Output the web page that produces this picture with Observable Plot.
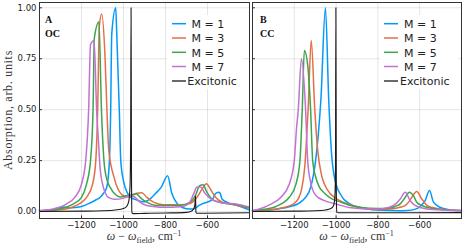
<!DOCTYPE html>
<html>
<head>
<meta charset="utf-8">
<script src="https://cdn.jsdelivr.net/npm/d3@7"></script>
<script src="https://cdn.jsdelivr.net/npm/@observablehq/plot@0.6"></script>
<style>
  html, body { margin: 0; padding: 0; background: #fff; }
  #root { position: relative; width: 463px; height: 247px; overflow: hidden; background: #fff; }
  #root svg { position: absolute; top: 0; }
</style>
</head>
<body>
<div id="root"></div>
<script>
// ---------- axes / ticks ----------
const xDomain = [-1400, -400];
const yDomain = [-0.034, 1.026];
const xTicks = [-1200, -1000, -800, -600];
const yTicks = [0, 0.25, 0.5, 0.75, 1];
const seriesNames = ["M = 1", "M = 3", "M = 5", "M = 7", "Excitonic"];
const seriesColors = ["#009AFA", "#E36F47", "#3EA44E", "#C371D2", "#1a1a1a"];
const panelTags = [["A", "OC"], ["B", "CC"]];

// ---------- panel A (OC) ----------
const ocM1 = [[-1400,0.003],[-1360,0.006],[-1320,0.012],[-1300,0.02],[-1285,0.022],[-1260,0.018],[-1230,0.02],[-1200,0.025],[-1160,0.042],[-1130,0.058],[-1112,0.069],[-1095,0.09],[-1080,0.118],[-1067,0.25],[-1061,0.5],[-1056,0.87],[-1037,1.0],[-1033,0.9],[-1020,0.5],[-1013,0.25],[-1000,0.15],[-992,0.118],[-975,0.08],[-960,0.066],[-940,0.058],[-905,0.048],[-870,0.065],[-849,0.087],[-820,0.12],[-790,0.176],[-770,0.09],[-745,0.04],[-720,0.02],[-690,0.013],[-666,0.013],[-640,0.03],[-626,0.038],[-578,0.057],[-562,0.088],[-547,0.095],[-540,0.09],[-530,0.06],[-506,0.045],[-458,0.03],[-400,0.008]];
const ocM3 = [[-1400,0.003],[-1340,0.006],[-1288,0.01],[-1224,0.03],[-1200,0.045],[-1176,0.07],[-1147,0.135],[-1132,0.25],[-1123,0.5],[-1115,0.91],[-1104,0.97],[-1088,0.76],[-1079,0.5],[-1070,0.3],[-1045,0.168],[-1008,0.083],[-985,0.072],[-965,0.075],[-937,0.09],[-913,0.092],[-889,0.07],[-857,0.046],[-810,0.034],[-730,0.034],[-682,0.04],[-650,0.07],[-626,0.11],[-605,0.136],[-586,0.11],[-562,0.07],[-530,0.046],[-458,0.03],[-400,0.017]];
const ocM5 = [[-1400,0.004],[-1304,0.013],[-1240,0.037],[-1200,0.07],[-1176,0.135],[-1157,0.25],[-1145,0.5],[-1139,0.85],[-1117,0.93],[-1105,0.5],[-1093,0.25],[-1080,0.16],[-1064,0.12],[-1040,0.085],[-1016,0.072],[-990,0.078],[-960,0.083],[-940,0.087],[-913,0.062],[-889,0.046],[-841,0.03],[-730,0.03],[-682,0.046],[-658,0.078],[-637,0.127],[-621,0.132],[-605,0.1],[-578,0.06],[-538,0.045],[-458,0.034],[-400,0.018]];
const ocM7 = [[-1400,0.005],[-1336,0.013],[-1272,0.037],[-1232,0.07],[-1200,0.135],[-1180,0.25],[-1166,0.5],[-1157,0.82],[-1140,0.84],[-1128,0.5],[-1120,0.36],[-1112,0.22],[-1096,0.12],[-1072,0.07],[-1040,0.06],[-1000,0.066],[-968,0.078],[-953,0.075],[-935,0.06],[-921,0.046],[-889,0.03],[-850,0.024],[-810,0.021],[-730,0.024],[-700,0.032],[-685,0.045],[-666,0.087],[-650,0.12],[-634,0.12],[-610,0.087],[-578,0.057],[-538,0.045],[-458,0.036],[-400,0.022]];
const ocExc = [[-1400,0],[-1200,0.002],[-1100,0.004],[-1040,0.008],[-1000,0.015],[-985,0.025],[-975,0.05],[-969,0.12],[-966,0.35],[-964,1.0],[-962,0.2],[-960,-0.005],[-955,-0.01],[-900,-0.009],[-800,-0.007],[-700,-0.004],[-675,0.003],[-665,0.015],[-660,0.035],[-657,0.078],[-655,-0.003],[-652,-0.008],[-620,-0.008],[-400,-0.006]];

// ---------- panel B (CC) ----------
const ccM1 = [[-1400,0.003],[-1300,0.01],[-1250,0.017],[-1220,0.025],[-1186,0.036],[-1160,0.055],[-1146,0.07],[-1122,0.118],[-1098,0.25],[-1085,0.38],[-1073,0.545],[-1051,1.0],[-1035,0.54],[-1019,0.25],[-995,0.118],[-979,0.085],[-963,0.06],[-947,0.046],[-916,0.028],[-852,0.012],[-780,0.006],[-700,0.004],[-661,0.005],[-620,0.012],[-598,0.025],[-574,0.054],[-553,0.103],[-534,0.046],[-503,0.021],[-440,0.006],[-400,0.004]];
const ccM3 = [[-1400,0.004],[-1330,0.008],[-1272,0.015],[-1208,0.035],[-1180,0.065],[-1165,0.11],[-1150,0.22],[-1134,0.5],[-1119,0.84],[-1102,0.5],[-1088,0.3],[-1070,0.18],[-1056,0.135],[-1030,0.09],[-1008,0.07],[-975,0.05],[-944,0.037],[-880,0.02],[-820,0.01],[-760,0.011],[-720,0.015],[-690,0.022],[-669,0.03],[-650,0.05],[-638,0.07],[-614,0.098],[-590,0.062],[-566,0.03],[-540,0.02],[-503,0.013],[-407,0.005]];
const ccM5 = [[-1400,0.004],[-1367,0.008],[-1288,0.025],[-1250,0.045],[-1224,0.07],[-1192,0.135],[-1173,0.25],[-1162,0.5],[-1152,0.79],[-1135,0.71],[-1122,0.5],[-1112,0.25],[-1095,0.16],[-1080,0.12],[-1055,0.09],[-1032,0.07],[-976,0.046],[-930,0.03],[-880,0.02],[-800,0.015],[-741,0.018],[-715,0.026],[-693,0.038],[-669,0.07],[-650,0.095],[-630,0.078],[-614,0.046],[-590,0.03],[-566,0.021],[-471,0.008],[-400,0.005]];
const ccM7 = [[-1400,0.005],[-1367,0.013],[-1312,0.037],[-1264,0.07],[-1224,0.135],[-1200,0.25],[-1190,0.4],[-1181,0.5],[-1166,0.75],[-1146,0.5],[-1136,0.25],[-1120,0.135],[-1096,0.078],[-1056,0.054],[-1000,0.037],[-938,0.02],[-850,0.013],[-788,0.013],[-750,0.02],[-725,0.03],[-693,0.062],[-669,0.095],[-646,0.054],[-622,0.03],[-566,0.013],[-480,0.007],[-400,0.005]];
const ccExc = [[-1400,0],[-1200,0.002],[-1100,0.004],[-1050,0.008],[-1025,0.015],[-1012,0.03],[-1006,0.07],[-1003,0.2],[-1001,1.0],[-999,0.1],[-997,-0.004],[-990,-0.006],[-900,-0.006],[-400,-0.005]];

const fmtX = d => (d < 0 ? "\u2212" + Math.abs(d) : String(d));
const fmtY = d3.format(".2f");

function panel(seriesList, opts) {
  const lines = seriesList.map((pts, i) => Plot.line(pts, {
    x: d => d[0], y: d => d[1],
    stroke: seriesColors[i],
    strokeWidth: i === 4 ? 1.1 : 1.5,
    curve: "monotone-x"
  }));
  return Plot.plot({
    width: opts.width, height: 230,
    marginTop: 2, marginBottom: 12,
    marginLeft: opts.marginLeft, marginRight: opts.marginRight,
    style: { fontFamily: "DejaVu Sans", fontSize: "8.5px", color: "#222", background: "transparent" },
    x: { domain: xDomain, ticks: xTicks, tickFormat: fmtX, tickSize: 0, tickPadding: 3, label: null },
    y: { domain: yDomain, ticks: yTicks, tickFormat: fmtY, tickSize: 0, tickPadding: 3, label: null, axis: opts.showY ? "left" : null },
    marks: [
      Plot.gridX(xTicks, { stroke: "#000", strokeOpacity: 0.1 }),
      Plot.gridY(yTicks, { stroke: "#000", strokeOpacity: 0.1 }),
      Plot.ruleX(xTicks, { y1: yDomain[0], y2: yDomain[0] + 0.013, stroke: "#333" }),
      Plot.ruleY(yTicks, { x1: xDomain[0], x2: xDomain[0] + 14, stroke: "#333" }),
      ...lines,
      Plot.frame({ stroke: "#333" })
    ]
  });
}

const root = document.getElementById("root");
const left = panel([ocM1, ocM3, ocM5, ocM7, ocExc], { width: 250, marginLeft: 39, marginRight: 1, showY: true });
left.style.left = "0px";
root.appendChild(left);
const right = panel([ccM1, ccM3, ccM5, ccM7, ccExc], { width: 213, marginLeft: 2, marginRight: 2, showY: false });
right.style.left = "250px";
root.appendChild(right);

// ---------- annotations overlay (legend, titles) ----------
const ov = d3.select(root).append("svg")
  .attr("width", 463).attr("height", 247)
  .style("left", "0px").style("pointer-events", "none");

// legends
const legendSpecs = [
  { bx: 167, bw: 76, lx1: 172, lx2: 186, tx: 191.5, txExc: 187.3 },
  { bx: 380, bw: 78, lx1: 384, lx2: 398, tx: 404, txExc: 400 }
];
const rowY = [23.7, 38, 52.3, 66.5, 81];
legendSpecs.forEach(L => {
  ov.append("rect").attr("x", L.bx).attr("y", 15).attr("width", L.bw).attr("height", 74).attr("fill", "#fff");
  seriesNames.forEach((name, i) => {
    ov.append("line").attr("x1", L.lx1).attr("x2", L.lx2).attr("y1", rowY[i]).attr("y2", rowY[i])
      .attr("stroke", seriesColors[i]).attr("stroke-width", i === 4 ? 1.3 : 1.5);
    ov.append("text").attr("x", i === 4 ? L.txExc : L.tx).attr("y", rowY[i] + 4.2)
      .attr("font-family", "DejaVu Sans").attr("font-size", 11).attr("fill", "#222").text(name);
  });
});

// panel tags
[[45, 0], [260, 1]].forEach(([x, k]) => {
  panelTags[k].forEach((t, j) => {
    ov.append("text").attr("x", x).attr("y", j === 0 ? 23.3 : 37.3)
      .attr("font-family", "Liberation Serif").attr("font-weight", "bold").attr("font-size", 10)
      .attr("fill", "#111").text(t);
  });
});

// y label
ov.append("text").attr("transform", "translate(11.5,110) rotate(-90)")
  .attr("text-anchor", "middle").attr("font-family", "Liberation Serif").attr("font-size", 12)
  .attr("letter-spacing", "0.7px").attr("fill", "#333").text("Absorption, arb. units");

// x labels
[144, 356.5].forEach(cx => {
  const t = ov.append("text").attr("x", cx).attr("y", 239.5).attr("text-anchor", "middle")
    .attr("font-family", "Liberation Serif").attr("font-size", 12).attr("fill", "#333");
  t.append("tspan").attr("font-style", "italic").text("ω");
  t.append("tspan").text(" \u2212 ");
  t.append("tspan").attr("font-style", "italic").text("ω");
  t.append("tspan").attr("font-size", 8.5).attr("dy", 3).text("field");
  t.append("tspan").attr("dy", -3).text(",  cm");
  t.append("tspan").attr("font-size", 8).attr("dy", -4).text("\u22121");
});
</script>
</body>
</html>
